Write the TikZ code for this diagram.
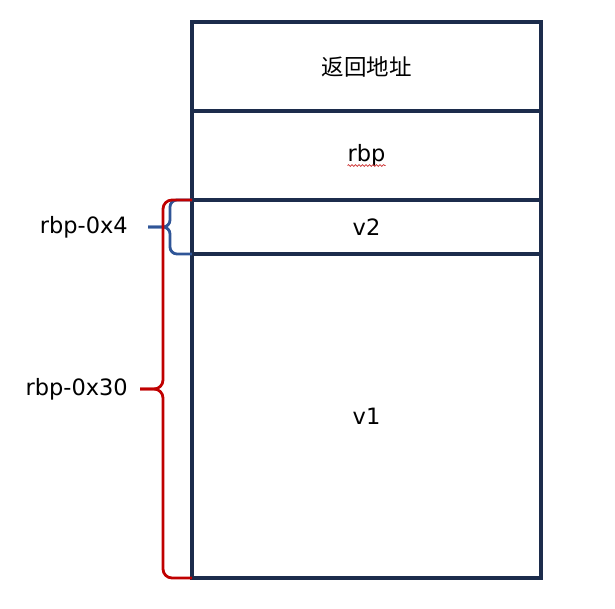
\documentclass[tikz,border=0pt]{standalone}
\usepackage{fontspec}
\setmainfont{DejaVu Sans}
\newfontfamily\cjk{Noto Sans CJK SC}
\usepackage{tikz}
\usetikzlibrary{calc,positioning,decorations.pathmorphing}
\usepackage{xcolor}
\definecolor{ink}{HTML}{1C2C4C}
\definecolor{sea}{HTML}{2F5597}
\definecolor{alert}{HTML}{C00000}
\tikzset{cell/.style={draw=ink,line width=3.2pt,minimum width=349pt,outer sep=0pt,inner sep=0pt,font=\fontsize{22.5}{26}\selectfont},note/.style={inner sep=0pt,font=\fontsize{22.5}{26}\selectfont},bluebrace/.style={draw=sea,line width=2.8pt,rounded corners=7pt},redbrace/.style={draw=alert,line width=2.8pt,rounded corners=9pt},squiggle/.style={draw=alert!80,line width=.7pt,decorate,decoration={snake,amplitude=.9pt,segment length=3.5pt}}}

\begin{document}
\begin{tikzpicture}[x=1pt,y=-1pt]
\useasboundingbox (0,0) rectangle (615,608);
% stack cells
\node[cell,minimum height=89pt] (ret) at (366.5,66.5) {\cjk\fontsize{22.5}{26}\selectfont 返回地址};
\node[cell,minimum height=89pt,below=0pt of ret] (rbp) {rbp};
\node[cell,minimum height=54pt,below=0pt of rbp] (vtwo) {v2};
\node[cell,minimum height=324pt,below=0pt of vtwo] (vone) {v1};
\draw[squiggle] ($(rbp.center)+(-19,10)$) -- ++(38,0);
% offsets
\coordinate (bluemid) at ($(vtwo.west)+(-22,0)$);
\coordinate (bluetip) at ($(bluemid)+(-22,0)$);
\draw[bluebrace] (vtwo.north west) -| (bluemid) -- (bluetip);
\draw[bluebrace] (vtwo.south west) -| (bluemid) -- (bluetip);
\coordinate (redmid) at ($(vtwo.north west)!.5!(vone.south west)+(-29,0)$);
\coordinate (redtip) at ($(redmid)+(-23,0)$);
\draw[redbrace] (vtwo.north west) -| (redmid) -- (redtip);
\draw[redbrace] (vone.south west) -| (redmid) -- (redtip);
\node[note,left=20pt of bluetip] (offfour) {rbp-0x4};
\node[note,left=12pt of redtip] (offthirty) {rbp-0x30};
\end{tikzpicture}
\end{document}
